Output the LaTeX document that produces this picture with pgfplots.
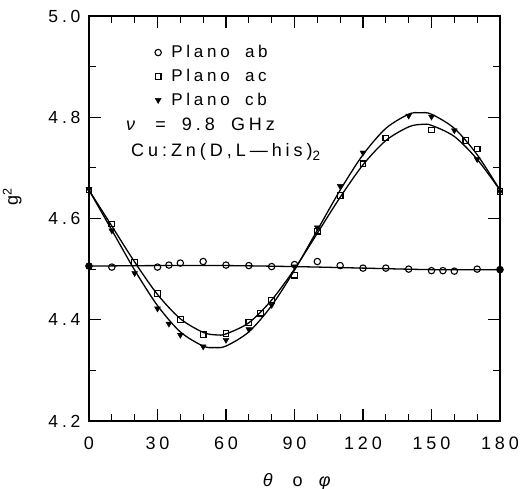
\documentclass[border=0pt]{standalone}
\usepackage{fontspec}
\setmainfont{Liberation Sans}[LetterSpace=22, WordSpace=1.8]
\usepackage{pgfplots}
\pgfplotsset{compat=1.18}
\begin{document}
\begin{tikzpicture}
\begin{axis}[
  scale only axis, width=411bp, height=405bp,
  xmin=0, xmax=180, ymin=4.2, ymax=5.0,
  xtick={0,30,...,180}, minor x tick num=2,
  ytick={4.2,4.4,4.6,4.8,5.0}, minor y tick num=1,
  tick align=inside, major tick length=12bp, minor tick length=7bp,
  every tick/.append style={black, line width=1.1bp},
  axis line style={line width=1.6bp},
  /pgf/number format/assume math mode=true,
  xticklabel style={font=\fontsize{18bp}{20bp}\selectfont, yshift=-12bp},
  yticklabel style={/pgf/number format/fixed, /pgf/number format/fixed zerofill,
    /pgf/number format/precision=1, font=\fontsize{17.5bp}{20bp}\selectfont, xshift=-5bp},
  xlabel={\textit{θ} o \textit{φ}},
  xlabel style={font=\fontsize{18bp}{20bp}\selectfont, at={(axis description cs:0.51,-0.150)}, anchor=center},
  ylabel={g\textsuperscript{2}},
  ylabel style={font=\fontsize{18bp}{20bp}\selectfont, at={(axis description cs:-0.187,0.553)}, anchor=center},
  legend style={draw=none, fill=none, font=\fontsize{17bp}{20bp}\selectfont,
    at={(rel axis cs:0.160,0.851)}, anchor=west, row sep=6bp, inner sep=0pt,
    /tikz/every odd column/.append style={column sep=8bp}},
  legend cell align=left,
]
% ajustes (curvas)
\addplot[smooth, line width=1.3bp, forget plot] coordinates {
(0,4.506) (30,4.507) (60,4.507) (90,4.505) (120,4.502) (150,4.499) (180,4.499)};
\addplot[smooth, line width=1.3bp, forget plot] coordinates {
(0,4.656) (10,4.585) (20,4.514) (30,4.450) (40,4.402) (50,4.375) (56,4.370) (60,4.372)
(70,4.394) (80,4.439) (90,4.500) (100,4.571) (110,4.642) (120,4.706) (130,4.754)
(140,4.781) (146,4.786) (150,4.784) (160,4.762) (170,4.717) (180,4.656)};
\addplot[smooth, line width=1.3bp, forget plot] coordinates {
(0,4.656) (10,4.577) (20,4.498) (30,4.428) (40,4.376) (50,4.348) (55,4.345) (60,4.348)
(70,4.376) (80,4.428) (90,4.498) (100,4.577) (110,4.656) (120,4.726) (130,4.778)
(140,4.806) (145,4.809) (150,4.806) (160,4.778) (170,4.726) (180,4.656)};
% datos
\addplot[only marks, mark=o, mark size=3.2bp, mark options={line width=1.1bp, fill=white}] coordinates {
(0,4.506) (10,4.504) (30,4.504) (35,4.508) (40,4.512) (50,4.515) (60,4.508) (70,4.507)
(80,4.505) (90,4.509) (100,4.515) (110,4.507) (120,4.502) (130,4.502) (140,4.500)
(150,4.497) (155,4.497) (160,4.496) (170,4.500) (180,4.499)};
\addlegendentry{Plano ab}
\addplot[only marks, mark=square, mark size=2.8bp, mark options={line width=1.1bp, fill=white}] coordinates {
(0,4.656) (10,4.589) (20,4.513) (30,4.452) (40,4.400) (50,4.371) (60,4.373) (70,4.395)
(75,4.413) (80,4.439) (90,4.488) (100,4.575) (110,4.645) (120,4.708) (130,4.759)
(150,4.775) (165,4.754) (170,4.737) (180,4.653)};
\addlegendentry{Plano ac}
\addplot[only marks, mark=triangle*, mark size=3.4bp, mark options={rotate=180, fill=black}] coordinates {
(0,4.658) (10,4.576) (20,4.492) (30,4.422) (35,4.392) (40,4.370) (50,4.347) (60,4.360)
(70,4.381) (80,4.429) (90,4.505) (100,4.582) (110,4.664) (120,4.730) (140,4.803)
(150,4.801) (160,4.774) (170,4.717) (180,4.653)};
\addlegendentry{Plano cb}
\addplot[only marks, mark=*, mark size=3.2bp, forget plot] coordinates {(0,4.506) (180,4.499)};
\node[anchor=west, font=\fontsize{18bp}{20bp}\selectfont] at (rel axis cs:0.082,0.733) {\textit{ν} = 9.8 GHz};
\node[anchor=west, font=\fontsize{18bp}{20bp}\selectfont] at (rel axis cs:0.094,0.664)
  {Cu:Zn(D,L—his)\raisebox{-0.45ex}{\fontsize{13.5bp}{14bp}\selectfont 2}};
\end{axis}
\pgfresetboundingbox
\path[use as bounding box] (-89bp,-68bp) rectangle (431bp,421bp);
\end{tikzpicture}
\end{document}
